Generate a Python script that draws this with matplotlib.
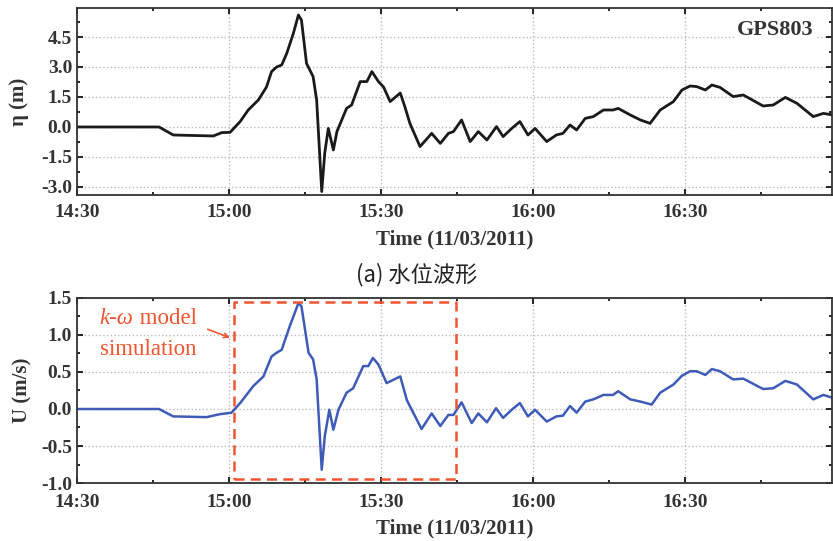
import numpy as np
import matplotlib.pyplot as plt
from matplotlib.ticker import MultipleLocator, FuncFormatter

# time in minutes after 14:30 on 11/03/2011
eta_t = [0, 16.2, 19.0, 26.9, 28.6, 30.2, 32.2, 33.8, 35.8, 37.4, 38.4, 39.4, 40.4,
         41.4, 42.7, 43.7, 44.3, 45.3, 46.6, 47.3, 48.3, 48.9, 49.6, 50.6, 51.3,
         53.2, 54.2, 55.9, 57.2, 58.2, 59.5, 60.5, 61.8, 63.8, 64.7, 65.7, 67.7,
         70.0, 71.7, 73.3, 74.3, 75.9, 77.6, 79.2, 80.9, 82.8, 84.1, 85.8, 87.4,
         89.0, 90.4, 92.7, 94.6, 95.9, 97.3, 98.6, 100.3, 101.9, 103.9, 105.8,
         106.8, 109.2, 111.2, 113.1, 115.1, 117.7, 119.4, 121.0, 122.3, 124.0,
         125.3, 126.9, 129.5, 131.5, 135.4, 137.4, 139.8, 142.1, 145.3, 147.3, 149.2]
eta = [0, 0, -0.4, -0.45, -0.28, -0.27, 0.27, 0.85, 1.35, 2.0, 2.77, 3.0, 3.1,
       3.68, 4.68, 5.6, 5.35, 3.18, 2.52, 1.35, -3.23, -1.3, -0.07, -1.15, -0.23,
       0.93, 1.1, 2.27, 2.27, 2.77, 2.27, 2.0, 1.27, 1.7, 1.02, 0.18, -0.98,
       -0.32, -0.82, -0.32, -0.23, 0.35, -0.73, -0.23, -0.65, 0.02, -0.48, -0.07, 0.27,
       -0.4, -0.07, -0.73, -0.4, -0.32, 0.1, -0.15, 0.43, 0.52, 0.85, 0.85,
       0.93, 0.6, 0.35, 0.18, 0.85, 1.27, 1.85, 2.05, 2.02, 1.85,
       2.1, 1.98, 1.52, 1.6, 1.05, 1.1, 1.48, 1.18, 0.52, 0.68, 0.6]

u_t = [0, 16.2, 19.0, 25.6, 28.2, 30.5, 32.2, 34.8, 36.8, 38.4, 39.4, 40.4, 42.0,
       43.7, 44.3, 45.7, 46.6, 47.3, 48.3, 48.9, 49.8, 50.6, 51.6, 53.2, 54.5,
       56.5, 57.5, 58.4, 59.5, 61.1, 63.8, 65.1, 68.0, 70.0, 71.7, 73.3, 74.3,
       75.9, 77.9, 79.2, 80.9, 82.7, 84.1, 85.8, 87.4, 89.0, 90.4, 92.7, 94.6,
       95.9, 97.3, 98.6, 100.3, 101.9, 103.9, 105.8, 106.8, 109.2, 111.2, 113.4,
       115.1, 117.7, 119.4, 121.0, 122.3, 124.0, 125.3, 126.9, 129.5, 131.5,
       135.4, 137.4, 139.8, 142.1, 145.3, 147.3, 149.2]
u = [0, 0, -0.1, -0.11, -0.07, -0.05, 0.08, 0.31, 0.44, 0.71, 0.76, 0.8, 1.12,
     1.43, 1.39, 0.76, 0.67, 0.4, -0.82, -0.37, -0.01, -0.28, -0.01, 0.22, 0.28,
     0.58, 0.58, 0.69, 0.6, 0.35, 0.44, 0.12, -0.27, -0.06, -0.23, -0.08, -0.08,
     0.09, -0.19, -0.06, -0.18, 0.01, -0.12, -0.01, 0.08, -0.1, -0.01, -0.17, -0.1,
     -0.09, 0.04, -0.05, 0.1, 0.13, 0.19, 0.19, 0.24, 0.13, 0.1, 0.06,
     0.22, 0.33, 0.45, 0.51, 0.51, 0.46, 0.54, 0.51, 0.4, 0.41,
     0.27, 0.28, 0.38, 0.33, 0.13, 0.19, 0.15]

box_t = [30.9, 74.8]
box_u = [-0.94, 1.45]

serif = 'Liberation Serif'
red = '#ee5530'
dark = '#333333'


def hhmm(v, pos):
    m = int(round(v)) + 14 * 60 + 30
    return f"{m // 60}:{m % 60:02d}"


def style(ax, xpad, lpad):
    ax.set_xlim(0, 149)
    ax.xaxis.set_major_locator(MultipleLocator(30))
    ax.xaxis.set_minor_locator(MultipleLocator(15))
    ax.xaxis.set_major_formatter(FuncFormatter(hhmm))
    ax.yaxis.set_major_formatter(FuncFormatter(lambda v, p: f"{v:.1f}"))
    ax.tick_params(which='both', direction='in', top=True, right=True, width=1.2)
    ax.tick_params(which='major', length=4)
    ax.tick_params(which='minor', length=2.5)
    ax.tick_params(axis='x', which='major', pad=xpad)
    ax.grid(True, which='major', linestyle=':', color='#bbbbbb', linewidth=1)
    for s in ax.spines.values():
        s.set_linewidth(1.3)
        s.set_color(dark)
    for lab in ax.get_xticklabels() + ax.get_yticklabels():
        lab.set_fontfamily(serif)
        lab.set_fontweight('bold')
        lab.set_fontsize(14)
        lab.set_color(dark)
    ax.set_xlabel('Time (11/03/2011)', family=serif, fontweight='bold',
                  fontsize=15, color=dark, labelpad=lpad)


fig = plt.figure(figsize=(8.33, 5.41), dpi=100)
ax1 = fig.add_axes([0.0924, 0.6396, 0.9064, 0.3456])
ax2 = fig.add_axes([0.0924, 0.1072, 0.9064, 0.342])

ax1.plot(eta_t, eta, color='#1a1a1a', linewidth=2, solid_joinstyle='round')
ax1.set_ylim(-3.4, 5.95)
ax1.yaxis.set_major_locator(MultipleLocator(1.5))
ax1.yaxis.set_minor_locator(MultipleLocator(0.75))
style(ax1, 6.5, 6)
ax1.set_ylabel('η (m)', family=serif, fontweight='bold', fontsize=15,
               color=dark, labelpad=9)
ax1.text(0.976, 0.88, 'GPS803', transform=ax1.transAxes, ha='right', va='center',
         family=serif, fontweight='bold', fontsize=16, color=dark,
         bbox=dict(facecolor='white', edgecolor='none', pad=1))

ax2.plot(u_t, u, color='#3f5bb8', linewidth=1.8, solid_joinstyle='round')
ax2.set_ylim(-1.0, 1.5)
ax2.yaxis.set_major_locator(MultipleLocator(0.5))
ax2.yaxis.set_minor_locator(MultipleLocator(0.25))
style(ax2, 8, 5)
ax2.set_ylabel('U (m/s)', family=serif, fontweight='bold', fontsize=15,
               color=dark, labelpad=6)
ax2.plot([box_t[0], box_t[1], box_t[1], box_t[0], box_t[0]],
         [box_u[0], box_u[0], box_u[1], box_u[1], box_u[0]],
         color=red, linestyle=(0, (4, 2.5)), linewidth=1.8)

# annotation: italic "k-ω" + " model" on one line, "simulation" below
t1 = ax2.text(4.5, 1.08, 'k-ω', family=serif, style='italic', fontsize=16.5,
              color=red, ha='left', va='bottom')
ax2.annotate(' model', xy=(1, 0), xycoords=t1, family=serif, fontsize=16.5,
             color=red, ha='left', va='bottom')
ax2.text(4.5, 0.80, 'simulation', family=serif, fontsize=16.5, color=red,
         ha='left', va='center')
ax2.annotate('', xy=(box_t[0] - 0.2, 0.95), xytext=(25.3, 1.09),
             arrowprops=dict(arrowstyle='->', color=red, lw=1.2,
                             mutation_scale=8))

fig.text(0.5, 0.492, '(a) 水位波形', ha='center', va='center', fontsize=16,
         family=['Noto Sans CJK SC', 'DejaVu Sans'], color='#222222')

fig.savefig('out.png', dpi=100)
